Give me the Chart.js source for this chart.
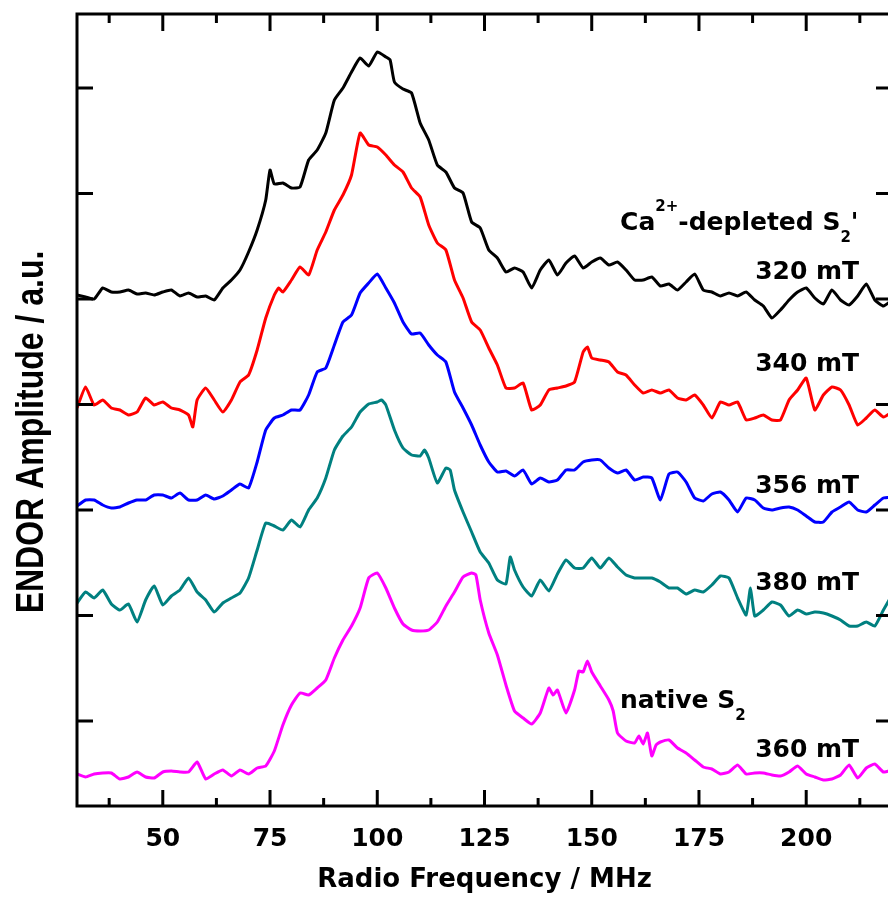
<!DOCTYPE html>
<html>
<head>
<meta charset="utf-8">
<title>ENDOR spectra</title>
<script src="https://cdn.jsdelivr.net/npm/chart.js@4.4.1/dist/chart.umd.min.js"></script>
<style>
  html, body { margin: 0; padding: 0; background: #fff; overflow: hidden; }
  #wrap { width: 888px; height: 898px; overflow: hidden; }
  canvas { display: block; }
</style>
</head>
<body>
<div id="wrap"><canvas id="endor" width="900" height="898"></canvas></div>
<script>
'use strict';

// Ca2+-depleted S2', 320 mT
const freq320 = [30,32,34,36,38,40,42,44,46,48,50,52,54,56,58,60,62,64,66,68,70,72,74,75,76,78,80,82,84,86,88,90,92,94,96,98,100,102,103,104,106,108,110,112,114,116,118,120,122,124,126,128,130,132,134,136,138,140,142,144,146,148,150,152,154,156,158,160,162,164,166,168,170,172,174,176,178,180,182,184,186,188,190,192,194,196,198,200,202,204,206,208,210,212,214,216,218,220];
const amp320 = [511,509,507,518,514,514,516,512,513,511,514,516,510,513,509,510,506,518,526,536,554,576,606,636,622,623,618,619,646,656,673,706,718,734,748,740,754,749,746,724,717,713,683,666,641,634,618,613,584,578,556,548,534,538,534,518,536,546,531,543,550,538,544,548,541,544,536,526,526,529,520,522,516,524,532,516,514,510,513,510,514,506,500,488,496,506,514,518,508,502,516,506,501,510,522,506,500,506];

// 340 mT
const freq340 = [30,32,34,36,38,40,42,44,46,48,50,52,54,56,57,58,60,62,64,66,68,70,72,74,76,77,78,80,82,84,86,88,90,92,94,96,98,100,102,104,106,108,110,112,114,116,118,120,122,124,126,128,130,132,134,136,138,140,142,144,146,148,149,150,152,154,156,158,160,162,164,166,168,170,172,174,176,178,180,182,184,186,188,190,192,194,196,198,200,202,204,206,208,210,212,214,216,218,220];
const amp340 = [398,419,401,406,398,396,391,394,408,401,404,398,396,391,379,406,418,406,394,406,424,431,456,488,511,518,514,526,539,531,556,574,596,611,631,673,661,659,651,641,634,618,609,581,563,556,526,508,484,476,458,441,418,418,423,396,401,416,418,420,424,454,459,448,446,444,434,431,421,413,416,413,416,408,406,411,401,388,404,401,404,386,388,391,386,386,406,416,428,396,411,419,416,401,381,388,396,389,394];

// 356 mT
const freq356 = [30,32,34,36,38,40,42,44,46,48,50,52,54,56,58,60,62,64,66,68,70,72,74,76,78,80,82,84,86,88,90,92,94,96,98,100,102,104,106,108,110,112,114,116,118,120,122,124,126,128,130,132,134,136,138,140,142,144,146,148,150,152,154,156,158,160,162,164,166,168,170,172,174,176,178,180,182,184,186,188,190,192,194,196,198,200,202,204,206,208,210,212,214,216,218,220];
const amp356 = [300,306,306,301,298,299,303,306,306,311,311,308,313,306,306,311,307,310,316,322,318,344,376,388,391,396,396,411,434,438,461,484,491,513,523,532,518,503,484,472,473,461,451,444,414,398,381,361,344,334,335,330,336,322,328,324,326,336,336,344,346,346,338,333,336,326,329,328,306,332,334,324,308,305,312,314,306,294,308,306,298,296,298,299,296,290,284,284,294,299,304,296,294,301,308,309];

// 380 mT
const freq380 = [30,32,34,36,38,40,42,44,46,48,50,52,54,56,58,60,62,64,66,68,70,72,74,76,78,80,82,84,86,88,90,92,94,96,98,100,101,102,104,106,108,110,111,112,114,116,117,118,120,122,124,126,128,130,131,132,134,136,138,140,142,144,146,148,150,152,154,156,158,160,162,164,166,168,170,172,174,176,178,180,182,184,186,187,188,190,192,194,196,198,200,202,204,206,208,210,212,214,216,218,220];
const amp380 = [203,214,208,216,202,196,202,184,206,220,201,210,216,228,214,206,194,203,208,213,228,256,283,280,276,286,279,296,308,328,356,370,379,394,402,404,406,401,376,358,351,350,356,348,323,338,336,316,294,274,254,243,226,222,249,236,219,210,226,215,232,246,238,238,248,238,248,239,231,228,228,228,224,218,218,212,216,214,221,230,228,208,191,218,190,196,204,201,190,196,192,194,193,190,186,180,180,184,180,196,211];

// native S2, 360 mT
const freq360 = [30,32,34,36,38,40,42,44,46,48,50,52,54,56,58,60,62,64,66,68,70,72,74,76,78,80,82,84,86,88,90,92,94,96,98,100,102,104,106,108,110,112,114,116,118,120,122,123,124,126,128,130,132,134,136,138,140,141,142,144,146,147,148,149,150,152,154,155,156,158,160,161,162,163,164,165,166,168,170,172,174,176,178,180,182,184,186,188,190,192,194,196,198,200,202,204,206,208,210,212,214,216,218,220];
const amp360 = [32,29,32,33,33,27,29,34,29,28,34,35,34,34,44,27,32,36,30,36,32,38,40,55,81,101,113,111,118,126,148,166,180,198,228,233,218,198,182,176,175,176,184,200,214,229,233,231,206,173,151,121,95,88,82,93,118,111,116,93,116,135,134,145,134,120,106,95,73,65,63,70,62,73,50,61,64,66,58,53,46,39,37,32,34,41,32,33,33,31,30,34,40,32,29,26,27,31,41,28,38,42,34,36];

const xMajor = [50, 75, 100, 125, 150, 175, 200];
const xMinor = [37.5, 62.5, 87.5, 112.5, 137.5, 162.5, 187.5, 212.5];
const yTicks = [85, 190.5, 296, 401.5, 507, 612.5, 718];

const traces = [
  { label: '320 mT', freq: freq320, amp: amp320, color: '#000000' },
  { label: '340 mT', freq: freq340, amp: amp340, color: '#ff0000' },
  { label: '356 mT', freq: freq356, amp: amp356, color: '#0000ff' },
  { label: '380 mT', freq: freq380, amp: amp380, color: '#008080' },
  { label: '360 mT', freq: freq360, amp: amp360, color: '#ff00ff' }
];

// text next to the traces, placed in data coordinates; level 1 = superscript, -1 = subscript
const notes = [
  { f: 156.6, a: 576, parts: [['Ca', 0], ['2+', 1], ['-depleted S', 0], ['2', -1], ["'", 0]] },
  { f: 188.1, a: 527, parts: [['320 mT', 0]] },
  { f: 188.1, a: 435, parts: [['340 mT', 0]] },
  { f: 188.1, a: 313, parts: [['356 mT', 0]] },
  { f: 188.1, a: 216, parts: [['380 mT', 0]] },
  { f: 156.6, a: 98,  parts: [['native S', 0], ['2', -1]] },
  { f: 188.1, a: 49,  parts: [['360 mT', 0]] }
];

const FONT = '"DejaVu Sans", "Liberation Sans", sans-serif';

const framePlugin = {
  id: 'frame',
  afterDraw(chart) {
    const { ctx, chartArea: a, scales: { x, y } } = chart;
    ctx.save();
    ctx.strokeStyle = '#000';
    ctx.lineWidth = 3;
    ctx.strokeRect(a.left, a.top, a.right - a.left, a.bottom - a.top);
    ctx.beginPath();
    xMajor.forEach(v => {
      const px = x.getPixelForValue(v);
      ctx.moveTo(px, a.bottom); ctx.lineTo(px, a.bottom - 16);
      ctx.moveTo(px, a.top); ctx.lineTo(px, a.top + 17);
    });
    xMinor.forEach(v => {
      const px = x.getPixelForValue(v);
      ctx.moveTo(px, a.bottom); ctx.lineTo(px, a.bottom - 8);
      ctx.moveTo(px, a.top); ctx.lineTo(px, a.top + 9);
    });
    yTicks.forEach(v => {
      const py = y.getPixelForValue(v);
      ctx.moveTo(a.left, py); ctx.lineTo(a.left + 16, py);
      ctx.moveTo(a.right, py); ctx.lineTo(a.right - 16, py);
    });
    ctx.stroke();

    // y axis title, set a little narrower than it is tall
    ctx.fillStyle = '#000';
    ctx.save();
    ctx.translate(43, 432);
    ctx.scale(1.2, 1);
    ctx.rotate(-Math.PI / 2);
    ctx.font = 'bold 32px "Liberation Sans", Arial, sans-serif';
    ctx.textAlign = 'center';
    ctx.textBaseline = 'alphabetic';
    ctx.fillText('ENDOR Amplitude / a.u.', 0, 0);
    ctx.restore();

    // trace labels
    ctx.textAlign = 'left';
    ctx.textBaseline = 'alphabetic';
    notes.forEach(n => {
      let px = x.getPixelForValue(n.f);
      const py = y.getPixelForValue(n.a);
      n.parts.forEach(([txt, lvl]) => {
        ctx.font = lvl === 0 ? 'bold 25px ' + FONT : 'bold 15px ' + FONT;
        const dy = lvl > 0 ? -19 : (lvl < 0 ? 12 : 0);
        ctx.fillText(txt, px, py + dy);
        px += ctx.measureText(txt).width;
      });
    });
    ctx.restore();
  }
};

const ctx = document.getElementById('endor').getContext('2d');
new Chart(ctx, {
  type: 'line',
  data: {
    datasets: traces.map(t => ({
      label: t.label,
      data: t.freq.map((f, i) => ({ x: f, y: t.amp[i] })),
      borderColor: t.color,
      borderWidth: 3,
      borderJoinStyle: 'round',
      pointRadius: 0,
      tension: 0.15,
      fill: false
    }))
  },
  options: {
    responsive: false,
    animation: false,
    devicePixelRatio: 1,
    layout: { padding: { top: 14, right: 8, left: 0, bottom: 0 } },
    plugins: { legend: { display: false }, tooltip: { enabled: false } },
    scales: {
      x: {
        type: 'linear',
        min: 30,
        max: 220,
        afterBuildTicks: s => { s.ticks = xMajor.map(v => ({ value: v })); },
        afterFit: s => { s.height = 92; },
        grid: { display: false, drawTicks: false },
        border: { display: false },
        ticks: {
          color: '#000',
          padding: 18,
          maxRotation: 0,
          autoSkip: false,
          font: { family: FONT, weight: 'bold', size: 25 }
        },
        title: {
          display: true,
          text: 'Radio Frequency / MHz',
          color: '#000',
          padding: { top: 0, bottom: 2 },
          font: { family: FONT, weight: 'bold', size: 26 }
        }
      },
      y: {
        type: 'linear',
        min: 0,
        max: 792,
        afterBuildTicks: s => { s.ticks = yTicks.map(v => ({ value: v })); },
        afterFit: s => { s.width = 77; },
        grid: { display: false, drawTicks: false },
        border: { display: false },
        ticks: { display: false }
      }
    }
  },
  plugins: [framePlugin]
});
</script>
</body>
</html>
